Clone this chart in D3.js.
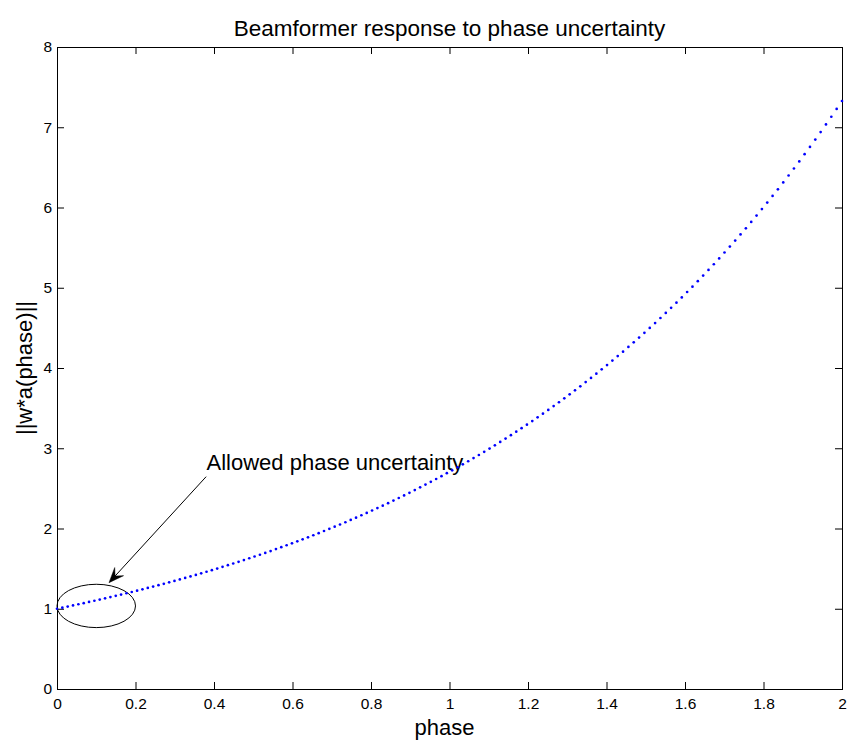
<!DOCTYPE html>
<html>
<head>
<meta charset="utf-8">
<script src="https://cdn.jsdelivr.net/npm/d3@7/dist/d3.min.js"></script>
<style>
  html, body { margin: 0; padding: 0; background: #fff; }
  svg { display: block; font-family: "Liberation Sans", Arial, Helvetica, sans-serif; }
</style>
</head>
<body>
<svg id="chart" width="849" height="743"></svg>
<script>
// ---- data ----
const titleText = "Beamformer response to phase uncertainty";
const xLabelText = "phase";
const yLabelText = "||w*a(phase)||";
const annotationText = "Allowed phase uncertainty";

const xDomain = [0, 2];
const yDomain = [0, 8];
const xTickValues = [0, 0.2, 0.4, 0.6, 0.8, 1, 1.2, 1.4, 1.6, 1.8, 2];
const xTickLabels = ["0", "0.2", "0.4", "0.6", "0.8", "1", "1.2", "1.4", "1.6", "1.8", "2"];
const yTickValues = [0, 1, 2, 3, 4, 5, 6, 7, 8];
const yTickLabels = ["0", "1", "2", "3", "4", "5", "6", "7", "8"];

// phase samples are evenly spaced over [0, 2] (148 samples, one marker each)
const phaseStart = 0, phaseEnd = 2, sampleCount = 148;
// response values, one per sample
const response = [
  1.000, 1.014, 1.027, 1.041, 1.056, 1.070, 1.085, 1.100, 1.114, 1.130,
  1.145, 1.161, 1.177, 1.193, 1.209, 1.225, 1.242, 1.259, 1.276, 1.294,
  1.311, 1.329, 1.347, 1.366, 1.384, 1.403, 1.422, 1.442, 1.461, 1.481,
  1.501, 1.522, 1.543, 1.564, 1.585, 1.607, 1.629, 1.651, 1.673, 1.696,
  1.719, 1.743, 1.767, 1.791, 1.815, 1.840, 1.865, 1.890, 1.916, 1.942,
  1.969, 1.996, 2.023, 2.050, 2.078, 2.107, 2.135, 2.165, 2.194, 2.224,
  2.254, 2.285, 2.316, 2.348, 2.380, 2.412, 2.445, 2.479, 2.513, 2.547,
  2.582, 2.617, 2.652, 2.689, 2.725, 2.762, 2.800, 2.838, 2.877, 2.916,
  2.956, 2.996, 3.037, 3.079, 3.121, 3.163, 3.206, 3.250, 3.294, 3.339,
  3.385, 3.431, 3.478, 3.525, 3.573, 3.622, 3.672, 3.722, 3.772, 3.824,
  3.876, 3.929, 3.983, 4.037, 4.092, 4.148, 4.204, 4.262, 4.320, 4.379,
  4.438, 4.499, 4.560, 4.623, 4.686, 4.750, 4.814, 4.880, 4.947, 5.014,
  5.082, 5.152, 5.222, 5.293, 5.365, 5.439, 5.513, 5.588, 5.664, 5.741,
  5.820, 5.899, 5.980, 6.061, 6.144, 6.227, 6.312, 6.399, 6.486, 6.574,
  6.664, 6.755, 6.847, 6.940, 7.035, 7.131, 7.228, 7.327
];

// annotation geometry in data units
const ellipseCenter = [0.1, 1.035];
const ellipseRadii = [0.1, 0.27];
const arrowTail = [0.380, 2.646];
const arrowTip = [0.1325, 1.325];
const annotationAnchor = [0.381, 2.73];

// ---- layout ----
const W = 849, H = 743;
const plot = { left: 57, right: 842, top: 47, bottom: 689 };
const fontSizeBig = 22, fontSizeTitle = 22.5, fontSizeTick = 15.5;

const svg = d3.select("#chart");
const x = d3.scaleLinear().domain(xDomain).range([plot.left, plot.right]);
const y = d3.scaleLinear().domain(yDomain).range([plot.bottom, plot.top]);

const step = (phaseEnd - phaseStart) / (sampleCount - 1);
const points = response.map((v, i) => ({ phase: phaseStart + i * step, value: v }));

// ---- axes (box with inward ticks on all sides) ----
const tickLen = 7;
function styleAxis(g) {
  g.selectAll("path.domain").attr("stroke", "#000").attr("stroke-width", 1);
  g.selectAll(".tick line").attr("stroke", "#000").attr("stroke-width", 1);
  g.selectAll(".tick text").attr("fill", "#000")
    .style("font-family", '"Liberation Sans", Arial, sans-serif')
    .style("font-size", fontSizeTick + "px");
}

svg.append("g")
  .attr("transform", `translate(0,${plot.bottom})`)
  .call(d3.axisBottom(x).tickValues(xTickValues)
    .tickFormat((d, i) => xTickLabels[i])
    .tickSizeInner(-tickLen).tickSizeOuter(0).tickPadding(9))
  .call(styleAxis);

svg.append("g")
  .attr("transform", `translate(0,${plot.top})`)
  .call(d3.axisTop(x).tickValues(xTickValues).tickFormat("")
    .tickSizeInner(-tickLen).tickSizeOuter(0))
  .call(styleAxis);

svg.append("g")
  .attr("transform", `translate(${plot.left},0)`)
  .call(d3.axisLeft(y).tickValues(yTickValues)
    .tickFormat((d, i) => yTickLabels[i])
    .tickSizeInner(-tickLen).tickSizeOuter(0).tickPadding(5))
  .call(styleAxis);

svg.append("g")
  .attr("transform", `translate(${plot.right},0)`)
  .call(d3.axisRight(y).tickValues(yTickValues).tickFormat("")
    .tickSizeInner(-tickLen).tickSizeOuter(0))
  .call(styleAxis);

svg.selectAll(".domain").attr("shape-rendering", "crispEdges");

// ---- title & labels ----
svg.append("text")
  .attr("x", (plot.left + plot.right) / 2)
  .attr("y", 36)
  .attr("text-anchor", "middle")
  .style("font-size", fontSizeTitle + "px")
  .attr("fill", "#000")
  .text(titleText);

svg.append("text")
  .attr("x", (plot.left + plot.right) / 2 - 5)
  .attr("y", 735)
  .attr("text-anchor", "middle")
  .style("font-size", fontSizeBig + "px")
  .attr("fill", "#000")
  .text(xLabelText);

svg.append("text")
  .attr("transform", `translate(32,${(plot.top + plot.bottom) / 2}) rotate(-90)`)
  .attr("text-anchor", "middle")
  .style("font-size", fontSizeBig + "px")
  .attr("fill", "#000")
  .text(yLabelText);

// ---- annotation: ellipse, arrow, text ----
svg.append("ellipse")
  .attr("cx", x(ellipseCenter[0]))
  .attr("cy", y(ellipseCenter[1]))
  .attr("rx", x(ellipseCenter[0] + ellipseRadii[0]) - x(ellipseCenter[0]))
  .attr("ry", y(ellipseCenter[1]) - y(ellipseCenter[1] + ellipseRadii[1]))
  .attr("fill", "none")
  .attr("stroke", "#000")
  .attr("stroke-width", 1);

{
  const tx = x(arrowTail[0]), ty = y(arrowTail[1]);
  const hx = x(arrowTip[0]), hy = y(arrowTip[1]);
  const dx = tx - hx, dy = ty - hy, len = Math.hypot(dx, dy);
  const ux = dx / len, uy = dy / len;   // from tip toward tail
  const nx = -uy, ny = ux;
  const L = 15, Wd = 6, notch = 0.6;
  svg.append("line")
    .attr("x1", tx).attr("y1", ty)
    .attr("x2", hx + ux * L * notch).attr("y2", hy + uy * L * notch)
    .attr("stroke", "#000").attr("stroke-width", 1);
  const head = [
    [hx, hy],
    [hx + ux * L + nx * Wd, hy + uy * L + ny * Wd],
    [hx + ux * L * notch, hy + uy * L * notch],
    [hx + ux * L - nx * Wd, hy + uy * L - ny * Wd]
  ];
  svg.append("path")
    .attr("d", d3.line()(head) + "Z")
    .attr("fill", "#000").attr("stroke", "#000").attr("stroke-width", 0.5);
}

svg.append("text")
  .attr("x", x(annotationAnchor[0]))
  .attr("y", y(annotationAnchor[1]))
  .style("font-size", fontSizeBig + "px")
  .attr("fill", "#000")
  .text(annotationText);

// ---- dotted data curve (one marker per sample) ----
svg.append("g")
  .selectAll("circle")
  .data(points)
  .join("circle")
  .attr("cx", d => x(d.phase))
  .attr("cy", d => y(d.value))
  .attr("r", 1.35)
  .attr("fill", "#0000ff");
</script>
</body>
</html>
